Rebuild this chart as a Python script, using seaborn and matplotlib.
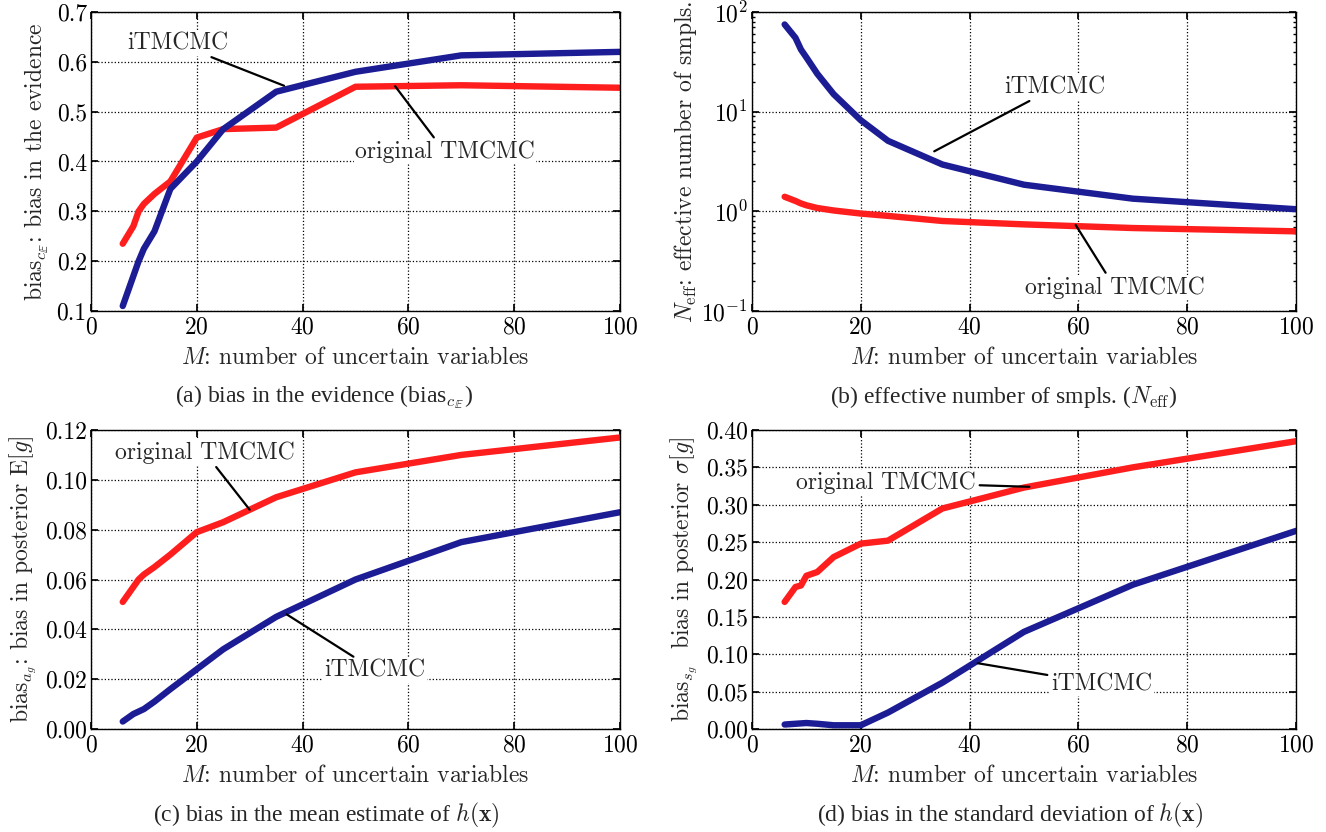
import numpy as np
import pandas as pd
import matplotlib
matplotlib.use('Agg')
import matplotlib.pyplot as plt
import matplotlib.ticker as mticker
import seaborn as sns

# number of uncertain variables
M = [6, 8, 9, 10, 12, 15, 20, 25, 35, 50, 70, 100]

# (a) bias in the evidence
bias_ev_itmcmc = [0.11, 0.17, 0.20, 0.225, 0.26, 0.345, 0.40, 0.465, 0.54, 0.58, 0.613, 0.62]
bias_ev_orig = [0.235, 0.27, 0.30, 0.315, 0.335, 0.36, 0.448, 0.465, 0.468, 0.55, 0.553, 0.548]

# (b) effective number of samples
neff_itmcmc = [75, 55, 42, 35, 24, 15, 8.2, 5.1, 2.95, 1.85, 1.34, 1.05]
neff_orig = [1.4, 1.27, 1.2, 1.15, 1.08, 1.02, 0.95, 0.9, 0.8, 0.74, 0.68, 0.63]

# (c) bias in posterior mean
bias_mean_itmcmc = [0.003, 0.006, 0.007, 0.008, 0.011, 0.016, 0.024, 0.032, 0.045, 0.060, 0.075, 0.087]
bias_mean_orig = [0.051, 0.057, 0.060, 0.062, 0.065, 0.070, 0.079, 0.083, 0.093, 0.103, 0.110, 0.117]

# (d) bias in posterior std
bias_std_itmcmc = [0.006, 0.007, 0.0075, 0.008, 0.007, 0.005, 0.005, 0.022, 0.062, 0.13, 0.193, 0.265]
bias_std_orig = [0.17, 0.19, 0.192, 0.205, 0.21, 0.23, 0.248, 0.252, 0.295, 0.323, 0.35, 0.385]

RED = '#ff1e1e'
BLUE = '#1c1c94'

sns.set_theme(style='white')
plt.rcParams.update({
    'font.family': ['cmr10'],
    'mathtext.fontset': 'cm',
    'axes.formatter.use_mathtext': True,
    'axes.unicode_minus': False,
    'axes.edgecolor': 'black',
    'axes.linewidth': 1.0,
    'xtick.direction': 'in',
    'ytick.direction': 'in',
    'xtick.top': True,
    'ytick.right': True,
    'xtick.bottom': True,
    'ytick.left': True,
    'xtick.major.size': 5,
    'ytick.major.size': 5,
    'xtick.minor.size': 2.5,
    'ytick.minor.size': 2.5,
    'xtick.labelsize': 17,
    'ytick.labelsize': 17,
    'xtick.color': 'black',
    'ytick.color': 'black',
    'xtick.major.pad': 4,
    'ytick.major.pad': 3,
})

fig = plt.figure(figsize=(13.26, 8.32), dpi=100)
W, H = 1326, 832


def add_ax(l, r, t, b):
    return fig.add_axes([l / W, 1 - b / H, (r - l) / W, (b - t) / H])


axA = add_ax(91, 620, 12, 311)
axB = add_ax(752, 1296, 12, 311)
axC = add_ax(91, 620, 430, 729)
axD = add_ax(752, 1296, 430, 729)

panels = [
    (axA, bias_ev_itmcmc, bias_ev_orig),
    (axB, neff_itmcmc, neff_orig),
    (axC, bias_mean_itmcmc, bias_mean_orig),
    (axD, bias_std_itmcmc, bias_std_orig),
]

for ax, yi, yo in panels:
    sns.lineplot(x=M, y=yo, ax=ax, color=RED, linewidth=4.6, errorbar=None)
    sns.lineplot(x=M, y=yi, ax=ax, color=BLUE, linewidth=4.6, errorbar=None)
    ax.set_xlim(0, 100)
    ax.xaxis.set_major_locator(mticker.MultipleLocator(20))
    ax.grid(True, which='major', linestyle=':', color='black', linewidth=0.9)
    ax.set_xlabel(r'$M$: number of uncertain variables', fontsize=17, labelpad=6)
    for s in ax.spines.values():
        s.set_color('black')

# (a)
axA.set_ylim(0.1, 0.7)
axA.yaxis.set_major_locator(mticker.MultipleLocator(0.1))
axA.yaxis.set_major_formatter(mticker.FormatStrFormatter('%.1f'))
axA.set_ylabel(r'bias$_{c_{\mathbb{E}}}$: bias in the evidence', fontsize=17, labelpad=4)

# (b)
axB.set_yscale('log')
axB.set_ylim(0.1, 100)
axB.yaxis.set_major_locator(mticker.LogLocator(base=10))
axB.yaxis.set_minor_locator(mticker.LogLocator(base=10, subs=np.arange(2, 10)))
axB.yaxis.set_minor_formatter(mticker.NullFormatter())
axB.tick_params(which='minor', direction='in', left=True, right=True)
axB.set_ylabel(r'$N_{\mathrm{eff}}$: effective number of smpls.', fontsize=17, labelpad=2)

# (c)
axC.set_ylim(0, 0.12)
axC.yaxis.set_major_locator(mticker.MultipleLocator(0.02))
axC.yaxis.set_major_formatter(mticker.FormatStrFormatter('%.2f'))
axC.set_ylabel(r'bias$_{a_g}$: bias in posterior E$[g]$', fontsize=17, labelpad=4)

# (d)
axD.set_ylim(0, 0.4)
axD.yaxis.set_major_locator(mticker.MultipleLocator(0.05))
axD.yaxis.set_major_formatter(mticker.FormatStrFormatter('%.2f'))
axD.set_ylabel(r'bias$_{s_g}$  bias in posterior $\sigma[g]$', fontsize=17, labelpad=4)

arrow = dict(arrowstyle='-', color='black', lw=1.6, shrinkA=2, shrinkB=0)
tk = dict(fontsize=17, ha='center', va='center',
          bbox=dict(boxstyle='square,pad=0.05', fc='white', ec='none'))

axA.annotate('iTMCMC', xy=(36.5, 0.552), xytext=(16.4, 0.636), arrowprops=arrow, **tk)
axA.annotate('original TMCMC', xy=(57.5, 0.551), xytext=(66.9, 0.419), arrowprops=arrow, **tk)

axB.annotate('iTMCMC', xy=(33.5, 4.0), xytext=(55.7, 17.5), arrowprops=arrow, **tk)
axB.annotate('original TMCMC', xy=(59.5, 0.73), xytext=(66.7, 0.172), arrowprops=arrow, **tk)

axC.annotate('original TMCMC', xy=(30, 0.088), xytext=(21.5, 0.111), arrowprops=arrow, **tk)
axC.annotate('iTMCMC', xy=(37, 0.046), xytext=(53.7, 0.0235), arrowprops=arrow, **tk)

axD.annotate('original TMCMC', xy=(51, 0.324), xytext=(24.6, 0.33), arrowprops=arrow, **tk)
axD.annotate('iTMCMC', xy=(41.5, 0.088), xytext=(64.3, 0.06), arrowprops=arrow, **tk)

cap = dict(fontsize=17, ha='center', va='center', family=['Liberation Serif'])
fig.text(324 / W, 1 - 397 / H, r'(a) bias in the evidence (bias$_{c_{\mathbb{E}}}$)', **cap)
fig.text(1004 / W, 1 - 397 / H, r'(b) effective number of smpls. ($N_{\mathrm{eff}}$)', **cap)
fig.text(326 / W, 1 - 815 / H, r'(c) bias in the mean estimate of $h(\mathbf{x})$', **cap)
fig.text(1010 / W, 1 - 815 / H, r'(d) bias in the standard deviation of $h(\mathbf{x})$', **cap)

fig.savefig('out.png', dpi=100, facecolor='white')
